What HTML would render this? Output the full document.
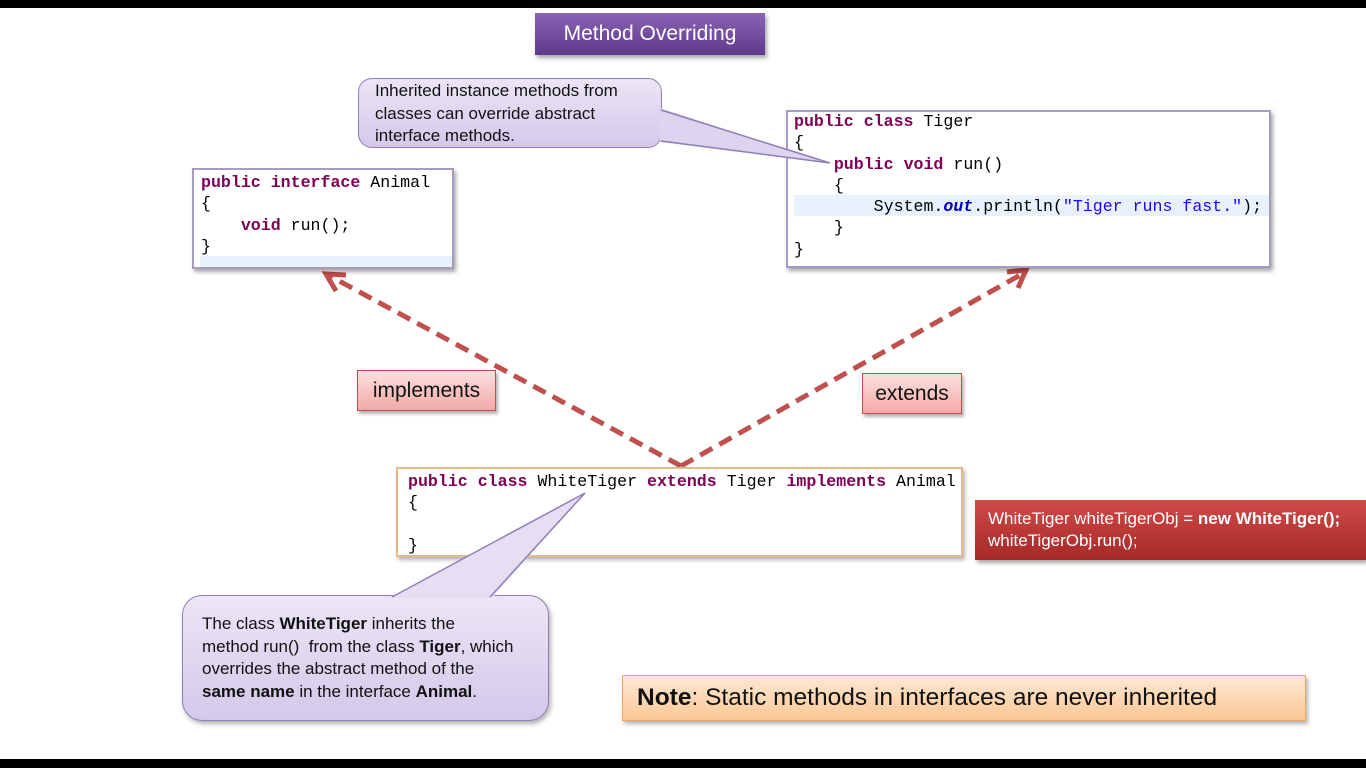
<!DOCTYPE html>
<html><head><meta charset="utf-8"><style>
*{margin:0;padding:0;box-sizing:border-box}
body{width:1366px;height:768px;position:relative;background:#fff;overflow:hidden;font-family:"Liberation Sans",sans-serif}
.abs{position:absolute}
.code{font-family:"Liberation Mono",monospace;font-size:16.6px;line-height:21.3px;color:#000;white-space:pre}
.k{color:#7f0055;font-weight:bold}
.s{color:#2a00ff}
.f{color:#0000c0;font-style:italic;font-weight:bold}
.cbox{background:#fff;border:2px solid #a99bc0;box-shadow:2px 3px 4px rgba(0,0,0,.35)}
.call{background:linear-gradient(#ece6f6,#d3c8ea);border:1.5px solid #8f7eb8;border-radius:14px;color:#111;font-size:17px;line-height:22.5px}
.pink{background:linear-gradient(#fbe0df,#f3a9a7);border:1px solid #c0504d;box-shadow:2px 3px 3px rgba(0,0,0,.3);font-size:21px;color:#111;text-align:center}
</style></head><body>
<div class="abs" style="left:0;top:0;width:1366px;height:8px;background:#000"></div>
<div class="abs" style="left:0;top:759px;width:1366px;height:9px;background:#000"></div>

<div class="abs" style="left:535px;top:13px;width:230px;height:42px;background:linear-gradient(#8a62b4,#5e3a8c);box-shadow:2px 3px 4px rgba(0,0,0,.35);color:#fff;font-size:21px;line-height:42px;text-align:center">Method Overriding</div>

<svg class="abs" style="left:0;top:0" width="1366" height="768">
 <g stroke="#c0504d" stroke-width="5" fill="none" stroke-dasharray="14,8">
  <line x1="681" y1="466" x2="330" y2="276"/>
  <line x1="681" y1="466" x2="1022" y2="274"/>
 </g>
 <g stroke="#c0504d" stroke-width="5" fill="none" stroke-linejoin="miter">
  <polyline points="346,275 326,274 336,291"/>
  <polyline points="1007,272 1026,270 1018,288"/>
 </g>
</svg>

<div class="abs call" style="left:358px;top:78px;width:304px;height:70px;padding:1px 0 0 16px">Inherited instance methods from<br>classes can override abstract<br>interface methods.</div>

<div class="abs cbox" style="left:192px;top:168px;width:262px;height:101px">
 <div class="abs" style="left:6px;top:86px;width:252px;height:11px;background:#e8f2fe"></div>
 <div class="abs code" style="left:7px;top:2px"><span class="k">public</span> <span class="k">interface</span> Animal
{
    <span class="k">void</span> run();
}</div>
</div>

<div class="abs cbox" style="left:786px;top:110px;width:485px;height:158px">
 <div class="abs" style="left:6px;top:83px;width:475px;height:21px;background:#e8f2fe"></div>
 <div class="abs code" style="left:6px;top:-1px"><span class="k">public</span> <span class="k">class</span> Tiger
{
    <span class="k">public</span> <span class="k">void</span> run()
    {
        System.<span class="f">out</span>.println(<span class="s">"Tiger runs fast."</span>);
    }
}</div>
</div>

<div class="abs pink" style="left:357px;top:370px;width:139px;height:41px;line-height:39px">implements</div>
<div class="abs pink" style="left:862px;top:373px;width:100px;height:41px;line-height:39px">extends</div>

<div class="abs" style="left:396px;top:467px;width:567px;height:90px;background:#fff;border:2px solid #e6b98c;box-shadow:2px 3px 4px rgba(0,0,0,.3)">
 <div class="abs code" style="left:10px;top:2px"><span class="k">public</span> <span class="k">class</span> WhiteTiger <span class="k">extends</span> Tiger <span class="k">implements</span> Animal
{

}</div>
</div>

<div class="abs" style="left:975px;top:500px;width:391px;height:60px;background:linear-gradient(#d04a48,#a52a28);box-shadow:2px 3px 4px rgba(0,0,0,.35);color:#fff;font-size:17px;line-height:22px;padding:8px 0 0 13px">WhiteTiger whiteTigerObj = <b>new WhiteTiger();</b><br>whiteTigerObj.run();</div>

<div class="abs call" style="left:182px;top:595px;width:367px;height:126px;border-radius:20px;padding:17px 0 0 19px;box-shadow:2px 3px 5px rgba(0,0,0,.3);font-size:17px">The class <b>WhiteTiger</b> inherits the<br>method run()&nbsp; from the class <b>Tiger</b>, which<br>overrides the abstract method of the<br><b>same name</b> in the interface <b>Animal</b>.</div>

<svg class="abs" style="left:0;top:0" width="1366" height="768">
 <polygon points="660,108 830,163 660,142" fill="#ddd4ef"/>
 <polyline points="661,110 830,163 661,141" fill="none" stroke="#8f7eb8" stroke-width="1.5"/>
 <polygon points="390,598 585,493 492,598" fill="#e6dff3"/>
 <polyline points="392,597 585,493 490,597" fill="none" stroke="#8f7eb8" stroke-width="1.5"/>
</svg>

<div class="abs" style="left:622px;top:675px;width:684px;height:46px;background:linear-gradient(#fde9d4,#fbc796);border:1px solid #f0a860;box-shadow:2px 3px 4px rgba(0,0,0,.3);font-size:24.5px;line-height:44px;padding-left:14px;color:#111"><b>Note</b>: Static methods in interfaces are never inherited</div>
</body></html>
